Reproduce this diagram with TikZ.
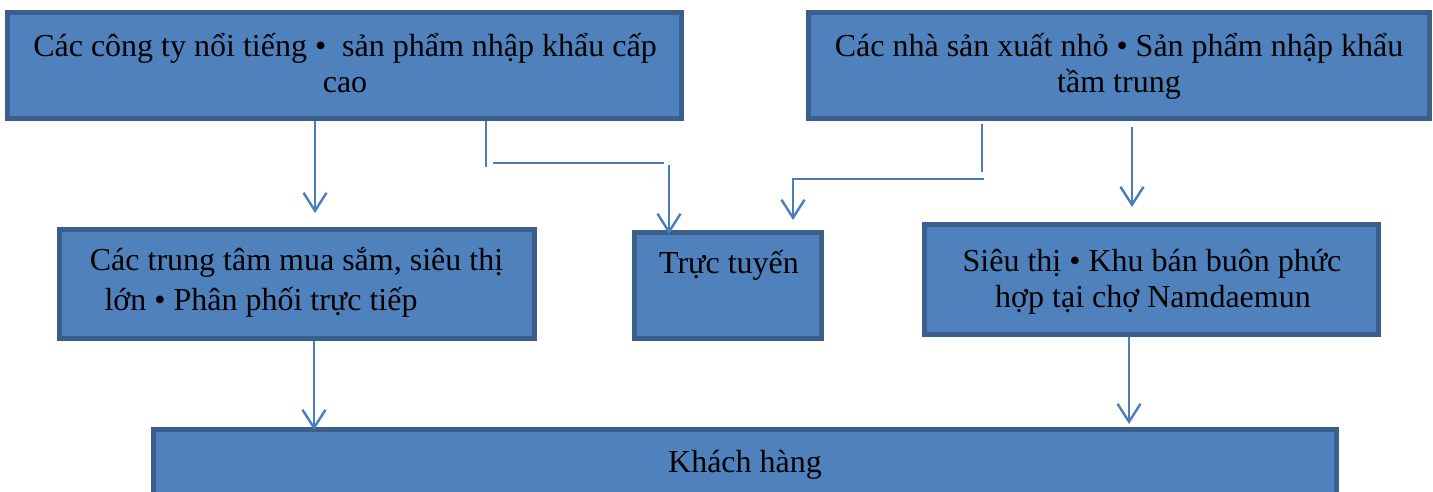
\documentclass[tikz,border=0pt]{standalone}
\usepackage{fontspec}
\setmainfont{Liberation Serif}
\usetikzlibrary{arrows.meta}
\definecolor{boxfill}{HTML}{4F81BD}
\definecolor{boxedge}{HTML}{3A5F8B}
\definecolor{linkcol}{HTML}{4A7EBB}
\tikzset{
  panel/.style={draw=boxedge, fill=boxfill, line width=5.5pt, inner sep=0pt},
  lbl/.style={anchor=base, inner sep=0pt, font=\fontsize{32}{38}\selectfont},
  link/.style={draw=linkcol, line width=2.4pt},
  flow/.style={link, -{Straight Barb[length=18pt, width=23pt, line width=2.4pt]}}
}
\begin{document}
\begin{tikzpicture}[x=1pt, y=-1pt]
\useasboundingbox (0,0) rectangle (1433,492);

% boxes
\node[panel, minimum width=674pt, minimum height=106pt] (brand) at (344.5,65.5) {};
\node[panel, minimum width=621pt, minimum height=106pt] (small) at (1119,65.5) {};
\node[panel, minimum width=475pt, minimum height=109pt] (mall) at (297,284) {};
\node[panel, minimum width=187pt, minimum height=106pt] (online) at (728,285.5) {};
\node[panel, minimum width=454pt, minimum height=110pt] (market) at (1151.5,279.5) {};
\node[panel, minimum width=1183pt, minimum height=108pt] (client) at (745,483.5) {};

% labels
\node[lbl] (brandA) at (345,57) {Các công ty nổi tiếng •\ \ sản phẩm nhập khẩu cấp};
\node[lbl] (brandB) at (345,93) {cao};
\node[lbl] (smallA) at (1119,57) {Các nhà sản xuất nhỏ • Sản phẩm nhập khẩu};
\node[lbl] (smallB) at (1119,93) {tầm trung};
\node[lbl] (mallA) at (296.5,270) {Các trung tâm mua sắm, siêu thị};
\node[lbl] (mallB) at (261,310) {lớn • Phân phối trực tiếp};
\node[lbl] (onlineA) at (729,273) {Trực tuyến};
\node[lbl] (marketA) at (1152,271) {Siêu thị • Khu bán buôn phức};
\node[lbl] (marketB) at (1153,307) {hợp tại chợ Namdaemun};
\node[lbl] (clientA) at (745,472) {Khách hàng};

% connector end points
\coordinate (p1s) at (315,121);  \coordinate (p1e) at (315,213);
\coordinate (p2a) at (486,121);  \coordinate (p2b) at (486,167);
\coordinate (p2c) at (493,163);  \coordinate (p2d) at (664,163);
\coordinate (p2e) at (669,165);  \coordinate (p2f) at (669,234);
\coordinate (p3a) at (982,124);  \coordinate (p3b) at (982,172);
\coordinate (p3c) at (984,179);  \coordinate (p3d) at (793,179);
\coordinate (p3e) at (793,220);
\coordinate (p4s) at (1132,127); \coordinate (p4e) at (1132,207);
\coordinate (p5s) at (314,341);  \coordinate (p5e) at (314,430);
\coordinate (p6s) at (1129,337); \coordinate (p6e) at (1129,424);

% connectors
\draw[flow] (p1s) -- (p1e);
\draw[link] (p2a) -- (p2b);
\draw[link] (p2c) -- (p2d);
\draw[flow] (p2e) -- (p2f);
\draw[link] (p3a) -- (p3b);
\draw[flow] (p3c) -- (p3d) -- (p3e);
\draw[flow] (p4s) -- (p4e);
\draw[flow] (p5s) -- (p5e);
\draw[flow] (p6s) -- (p6e);
\end{tikzpicture}
\end{document}
